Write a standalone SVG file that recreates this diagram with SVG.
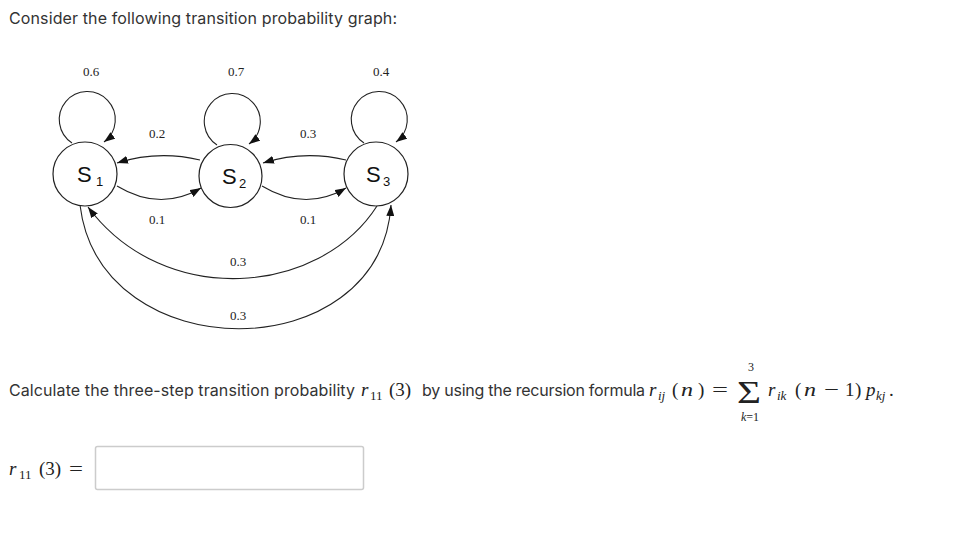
<svg xmlns="http://www.w3.org/2000/svg" width="964" height="556" viewBox="0 0 964 556">
<style>
.body{font-family:Inter,"Liberation Sans",sans-serif;font-size:16px;fill:#333}
.lbl{font-family:"Liberation Serif",serif;font-size:13px;fill:#222;text-anchor:middle}
.st{font-family:"Liberation Sans",Arial,sans-serif;fill:#111}
.node{fill:#fff;stroke:#222;stroke-width:1.2}
.edge{fill:none;stroke:#222;stroke-width:1.1;marker-end:url(#ah)}
.m{font-family:"Liberation Serif",serif;font-size:19px;fill:#222}
.mi{font-style:italic}
.ms{font-size:13px}
.sc{font-size:12px;text-anchor:middle}
.sig{font-family:"Liberation Serif",serif;font-size:31px;fill:#222}
</style>
<defs>
<marker id="ah" viewBox="0 0 11 8" refX="11" refY="4" markerWidth="11" markerHeight="8" markerUnits="userSpaceOnUse" orient="auto">
<path d="M0,0 L11,4 L0,8 Z" fill="#111"/>
</marker>
</defs>
<rect width="964" height="556" fill="#fff"/>
<text class="body" x="9" y="24" textLength="388">Consider the following transition probability graph:</text>

<g id="connectors">
<path id="e11" class="edge" d="M72,143 A28,28 0 1 1 104,142"/>
<path id="e22" class="edge" d="M217,145 A28,28 0 1 1 249,144"/>
<path id="e33" class="edge" d="M364,143 A28,28 0 1 1 396,142"/>
<path id="e21" class="edge" d="M200,160 Q158,150 117,163"/>
<path id="e12" class="edge" d="M117,186 Q160,212 201,188"/>
<path id="e32" class="edge" d="M346,160 Q304,150 263,163"/>
<path id="e23" class="edge" d="M262,186 Q305,212 346,188"/>
<path id="e31" class="edge" d="M377,206 C320,295 165,310 88,207"/>
<path id="e13" class="edge" d="M80,205 C100,370 380,370 391,205"/>
</g>

<g id="labels">
<text class="lbl" x="91" y="76">0.6</text>
<text class="lbl" x="236" y="76">0.7</text>
<text class="lbl" x="381" y="76">0.4</text>
<text class="lbl" x="157" y="138">0.2</text>
<text class="lbl" x="308" y="138">0.3</text>
<text class="lbl" x="157" y="224">0.1</text>
<text class="lbl" x="308" y="224">0.1</text>
<text class="lbl" x="238" y="266">0.3</text>
<text class="lbl" x="238" y="320">0.3</text>
</g>

<g id="S1">
<circle class="node" cx="85" cy="174" r="32"/>
<text class="st" x="77" y="182" font-size="22">S</text>
<text class="st" x="96" y="186" font-size="13">1</text>
</g>
<g id="S2">
<circle class="node" cx="230.5" cy="176" r="31.5"/>
<text class="st" x="222" y="184" font-size="22">S</text>
<text class="st" x="239" y="188" font-size="13">2</text>
</g>
<g id="S3">
<circle class="node" cx="376" cy="174" r="32"/>
<text class="st" x="366" y="182" font-size="22">S</text>
<text class="st" x="383" y="186" font-size="13">3</text>
</g>

<text class="body" x="9" y="396" textLength="346">Calculate the three-step transition probability</text>
<text class="m mi" x="361" y="396">r</text>
<text class="m ms" x="370" y="400">11</text>
<text class="m" x="389" y="396">(3)</text>
<text class="body" x="422" y="396" textLength="223">by using the recursion formula</text>

<text class="m mi" x="649" y="396">r</text>
<text class="m mi ms" x="658" y="400">ij</text>
<text class="m" x="672" y="396">(</text>
<text class="m mi" x="681" y="396" textLength="12" lengthAdjust="spacingAndGlyphs">n</text>
<text class="m" x="698" y="396">)</text>
<text class="m" x="712" y="396" textLength="16" lengthAdjust="spacingAndGlyphs">=</text>
<text class="sig" x="737" y="403" textLength="24" lengthAdjust="spacingAndGlyphs">Σ</text>
<text class="m sc" x="751" y="371">3</text>
<text class="m sc" x="750" y="421"><tspan class="mi">k</tspan>=1</text>
<text class="m mi" x="768" y="396">r</text>
<text class="m mi ms" x="777" y="400">ik</text>
<text class="m" x="795" y="396">(</text>
<text class="m mi" x="804" y="396" textLength="12" lengthAdjust="spacingAndGlyphs">n</text>
<text class="m" x="824" y="396" textLength="15" lengthAdjust="spacingAndGlyphs">−</text>
<text class="m" x="845" y="396">1</text>
<text class="m" x="855" y="396">)</text>
<text class="m mi" x="866" y="396">p</text>
<text class="m mi ms" x="876" y="400">kj</text>
<text class="m" x="889" y="396">.</text>

<text class="m mi" x="9" y="475">r</text>
<text class="m ms" x="19" y="479">11</text>
<text class="m" x="39" y="475">(3)</text>
<text class="m" x="69" y="475" textLength="14" lengthAdjust="spacingAndGlyphs">=</text>
<rect x="95.5" y="446.5" width="268" height="43" rx="2" fill="#fff" stroke="#ccc" stroke-width="1.5"/>
</svg>
